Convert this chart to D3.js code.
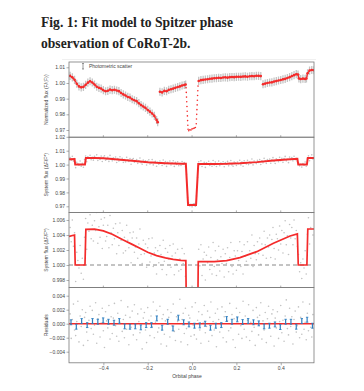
<!DOCTYPE html>
<html lang="en">
<head>
<meta charset="UTF-8">
<title>Fit model to Spitzer phase observation of CoRoT-2b</title>
<script src="https://d3js.org/d3.v7.min.js"></script>
<style>
  body { margin: 0; background: #fff; }
  svg { display: block; font-family: Arial, "Liberation Sans", sans-serif; }
  .title { font-family: "Liberation Serif", serif; font-weight: bold; font-size: 13.6px; fill: #222; }
  .axis text { font-size: 5px; fill: #444; }
  .axis path { display: none; }
  .axis line { stroke: #777; stroke-width: 0.6; }
  .ylabel { font-size: 5px; fill: #444; }
</style>
</head>
<body>
<svg width="364" height="391"></svg>
<script>
// orbital phase axis
const phaseTicks = [-0.4, -0.2, 0.0, 0.2, 0.4];

// y tick labels per panel
const rawTicks = [0.97, 0.98, 0.99, 1.00, 1.01];
const sysTicks = [0.97, 0.98, 0.99, 1.00, 1.01, 1.02];
const zoomTicks = [0.998, 1.000, 1.002, 1.004, 1.006];
const resTicks = [-0.004, -0.002, 0.000, 0.002, 0.004];

// panel 1: binned raw photometry (flux - 1, in ppt)
const rawPhase = [
  -0.55, -0.54, -0.53, -0.52, -0.51, -0.50, -0.49, -0.48, -0.47, -0.46,
  -0.45, -0.44, -0.43, -0.42, -0.41, -0.40, -0.39, -0.38, -0.37, -0.36,
  -0.35, -0.34, -0.33, -0.32, -0.31, -0.30, -0.29, -0.28, -0.27, -0.26,
  -0.25, -0.24, -0.23, -0.22, -0.21, -0.20, -0.19, -0.18, -0.17, -0.16, -0.155,
  -0.145, -0.135, -0.125, -0.115, -0.105, -0.095, -0.085, -0.075, -0.065, -0.055, -0.045, -0.035, -0.029,
  0.03, 0.04, 0.05, 0.06, 0.07, 0.08, 0.09, 0.10, 0.11, 0.12,
  0.13, 0.14, 0.15, 0.16, 0.17, 0.18, 0.19, 0.20, 0.21, 0.22,
  0.23, 0.24, 0.25, 0.26, 0.27, 0.28, 0.29, 0.30, 0.31,
  0.32, 0.33, 0.34, 0.35, 0.36, 0.37, 0.38, 0.39, 0.40, 0.41,
  0.42, 0.43, 0.44, 0.45, 0.46, 0.47, 0.478, 0.482, 0.49, 0.50,
  0.51, 0.516, 0.521, 0.53, 0.54, 0.55
];
const rawFlux = [
  4.5, 3.6, 2.0, -0.5, -2.2, -2.8, -2.5, -1.2, 0.2, 1.1,
  0.3, -1.0, -2.4, -3.1, -3.6, -4.6, -5.3, -5.0, -4.2, -4.6,
  -4.3, -4.8, -5.2, -6.4, -7.3, -8.0, -8.9, -9.3, -10.4, -11.0,
  -11.6, -12.9, -14.1, -15.0, -15.9, -17.2, -18.3, -19.5, -21.0, -23.6, -25.0,
  -5.6, -6.0, -5.0, -5.3, -4.4, -4.0, -3.6, -3.1, -2.6, -2.2, -1.6, -1.3, -1.0,
  1.3, 1.8, 2.0, 2.2, 2.4, 2.7, 2.8, 3.0, 3.1, 3.3,
  3.2, 3.5, 3.6, 3.4, 3.7, 3.8, 3.7, 3.9, 4.0, 3.9,
  4.1, 4.2, 4.0, 4.3, 4.4, 4.3, 4.6, 4.5, 4.4,
  -0.8, -0.4, 0.0, 0.3, 0.4, 0.9, 1.2, 1.6, 1.9, 2.3,
  2.6, 3.2, 3.7, 4.4, 5.0, 5.6, 5.4, 2.9, 2.5, 2.8,
  2.6, 2.9, 6.2, 7.9, 8.3, 8.1
];
// phases where a new observing segment starts in panel 1
const rawBreaks = [-0.145, 0.03, 0.32];
// panel 1: points through the transit (drawn as a dotted drop)
const transitPhase = [
  -0.027, -0.026, -0.025, -0.024, -0.023, -0.022, -0.021, -0.020, -0.019, -0.018,
  -0.015, -0.010, -0.005, 0.000, 0.005, 0.010, 0.015,
  0.019, 0.020, 0.021, 0.022, 0.023, 0.024, 0.025, 0.026, 0.027
];
const transitFlux = [
  -3, -6, -9, -12, -15, -18, -21, -24, -27, -29.5,
  -30.5, -29.8, -30.0, -29.3, -29.0, -28.8, -28.4,
  -26, -23, -20, -17, -14, -11, -8, -5, -2
];

// fitted system model (flux - 1, in ppt)
const modelPhase = [
  -0.555, -0.530, -0.527, -0.483, -0.479, -0.44, -0.40, -0.36, -0.31, -0.27,
  -0.235, -0.20, -0.16, -0.12, -0.085, -0.05, -0.028, -0.018, 0.018, 0.028,
  0.10, 0.156, 0.216, 0.292, 0.367, 0.442, 0.475, 0.479, 0.518, 0.522, 0.555
];
const modelFlux = [
  3.8, 4.0, 0.0, 0.0, 4.75, 4.78, 4.55, 4.1, 3.33, 2.75,
  2.22, 1.7, 1.25, 0.95, 0.76, 0.63, 0.58, -29.0, -29.0, 0.44,
  0.46, 0.58, 0.98, 1.78, 2.9, 3.87, 4.15, 0.0, 0.0, 4.8, 4.8
];

// systematics-corrected flux, one point every 0.005 in phase from -0.55 (ppt)
const sysFlux = [
  5.0, 3.1, 6.0, 2.5, 4.3, -2.2, 1.7, 0.6, -0.4, 2.6,
  -1.1, 0.9, -1.9, 3.7, 6.2, 2.1, 5.6, 4.5, 6.7, 3.5,
  5.3, 3.2, 5.9, 4.6, 7.0, 2.9, 5.1, 3.7, 6.1, 2.2,
  5.3, 6.3, 3.2, 3.8, 5.3, 2.3, 6.6, 4.3, 2.7, 4.9,
  3.5, 5.5, 1.5, 4.3, 2.6, 5.6, 3.3, 4.6, 1.6, 3.7,
  1.9, 5.3, 3.3, 2.3, 4.3, 0.3, 3.6, 4.4, 1.7, 2.4,
  3.6, 0.9, 2.8, 4.8, 1.4, 0.2, 3.3, 1.5, 2.8, -0.3,
  2.3, 3.5, 0.4, 1.2, 3.6, -0.2, 1.6, 2.3, -1.2, 1.9,
  0.3, 2.6, 1.4, -0.6, 3.3, 0.5, 2.2, -1.3, 1.7, 0.8,
  2.6, -0.3, 1.2, 2.8, -1.3, 1.6, 0.1, 2.1, -0.8, 0.8,
  -0.6, 2.2, 0.2, 1.5, -1.5, -6.9, -23.7, -27.7, -29.8, -28.5,
  -30.4, -28.4, -28.0, -29.9, -22.6, -9.2, 2.1, -0.1, 2.7, -1.4,
  0.8, 1.7, -2.0, 1.3, 0.3, 2.4, -0.6, 1.0, -1.2, 3.0,
  -0.2, 1.9, -1.4, 0.7, 2.5, -0.8, 1.1, 0.2, 2.1, -1.6,
  1.5, 0.2, 2.3, -0.9, 1.0, 3.0, -0.2, -1.2, 1.9, 1.2,
  -0.7, 1.9, 0.6, 3.1, -0.2, 1.8, -1.2, 2.7, 1.2, 0.5,
  3.1, 0.0, 1.9, 0.9, 4.0, -0.2, 2.6, 1.5, 0.7, 3.1,
  1.5, 3.6, 0.1, 2.8, 1.3, 4.5, 2.7, 0.9, 3.6, 2.4,
  4.0, 1.0, 3.4, 5.0, 2.2, 0.8, 4.1, 3.5, 2.0, 5.2,
  2.8, 4.6, 1.6, 4.3, 5.9, 2.7, 3.9, 1.4, 5.4, 3.6,
  5.0, 2.7, 6.0, 3.5, 4.6, 2.5, 1.4, -0.9, 0.3, -1.8,
  0.8, -0.4, 1.9, -1.2, 4.1, 6.3, 2.8, 5.0, 7.0, 4.0
];
// residuals at the same phases (ppt)
const residuals = [
  1.4, -2.1, 0.6, 2.8, -0.9, -1.7, 0.3, 3.2, -2.6, 1.1,
  -0.4, 2.0, -3.1, 0.9, 1.6, -1.2, -2.4, 0.5, 2.5, -0.7,
  1.9, -1.5, -0.2, 3.0, -2.8, 0.7, 1.3, -1.9, 0.1, 2.2,
  -1.0, -3.4, 1.7, 0.4, -0.6, 2.6, -2.2, 1.0, -1.4, 0.8,
  2.9, -0.3, -1.8, 1.5, -2.5, 0.2, 3.3, -1.1, 0.6, -2.0,
  1.2, -0.8, 2.4, -3.0, 0.9, -0.5, 1.8, -1.6, 2.7, -0.2,
  -2.3, 1.4, 0.3, -1.3, 2.1, -3.6, 0.8, 1.6, -0.9, -2.7,
  2.3, 0.5, -1.7, 1.1, -0.4, 3.1, -2.0, 0.2, 1.9, -1.2,
  -0.6, 2.5, -2.9, 0.7, 1.3, -1.5, 0.4, -3.2, 2.0, 0.9,
  -1.9, 1.6, -0.3, 2.8, -1.1, -2.4, 1.0, 0.3, -0.8, 3.5,
  -2.6, 0.6, 1.5, -1.4, 2.2, -0.7, -3.0, 1.2, 0.8, -1.8,
  2.4, -0.2, -1.6, 3.0, -2.2, 0.5, 1.7, -0.9, -2.8, 1.3,
  0.1, 2.6, -1.3, -0.4, 1.8, -2.5, 0.9, 3.1, -1.7, 0.3,
  -0.9, 1.5, -3.3, 2.1, 0.6, -1.2, -0.1, 2.4, -2.0, 1.0,
  1.7, -2.6, 0.4, -1.0, 2.9, -0.6, 1.3, -2.3, 0.7, -3.4,
  2.2, 0.8, -1.5, 1.6, -0.3, -2.1, 3.2, -0.8, 1.1, -1.9,
  0.5, 2.7, -2.4, 0.2, -1.1, 1.9, -0.5, -3.1, 2.3, 0.9,
  -1.6, 1.2, 3.0, -2.2, 0.4, -0.9, 1.6, -2.7, 0.7, 2.5,
  -0.2, -1.8, 1.4, 2.0, -3.2, 0.8, -0.6, 1.7, -2.1, 0.3,
  2.6, -1.3, 0.5, -2.5, 1.1, 3.4, -0.7, -1.6, 2.2, -0.4,
  1.0, -2.9, 0.6, 1.8, -1.2, -0.3, 2.4, -2.0, 0.9, -1.5,
  3.1, -0.8, 0.2, -2.3, 1.5, -1.0, 2.8, -0.5, -1.9, 1.3
];

// binned residuals (ppt)
const binPhase = [
  -0.546, -0.522, -0.498, -0.473, -0.449, -0.425, -0.401, -0.377, -0.352, -0.328,
  -0.304, -0.280, -0.256, -0.231, -0.207, -0.183, -0.159, -0.135, -0.110, -0.086,
  -0.062, -0.038, -0.014, 0.011, 0.035, 0.059, 0.083, 0.107, 0.132, 0.156,
  0.180, 0.204, 0.228, 0.253, 0.277, 0.301, 0.325, 0.349, 0.374, 0.398,
  0.422, 0.446, 0.470, 0.495, 0.519, 0.543
];
const binResid = [
  0.2, -0.43, 0.38, -0.2, 0.38, 0.28, 0.48, 0.28, 0.14, 0.38,
  -0.38, -0.43, -0.38, -0.52, -0.2, -0.2, 0.76, -0.57, 0.28, -0.67,
  0.86, 0.2, -0.1, -0.29, -0.24, 0.0, -0.57, -0.29, -0.2, 0.67,
  0.28, 0.62, 0.24, 0.38, 0.2, 0.05, -0.38, -0.29, -0.1, -0.48,
  0.28, 0.28, -0.43, 0.38, 0.57, -0.29
];
const binErr = 0.35;
const photScatter = 2.6; // ppt, grey bars in panel 1

const svg = d3.select("svg");
const left = 69, right = 314;
const panelH = 75.2;

const x = d3.scaleLinear().domain([-0.555, 0.55]).range([left, right]);
const sysPhase = sysFlux.map((d, i) => -0.55 + i * 0.005);
const ppt = v => 1 + v / 1000;

const red = "#f42b2b";
const grey = "#9a9a9a";

// title
svg.append("text").attr("class", "title").attr("x", 41).attr("y", 26.5)
  .text("Fig. 1: Fit model to Spitzer phase");
svg.append("text").attr("class", "title").attr("x", 41).attr("y", 48)
  .text("observation of CoRoT-2b.");
svg.append("line").attr("x1", 62).attr("x2", 316).attr("y1", 59.5).attr("y2", 59.5)
  .attr("stroke", "#f0f0f0");

const panels = [
  { top: 62.0, domain: [0.96541, 1.01338], ticks: rawTicks, fmt: ".2f", label: "Normalized flux (F/\u27e8F\u27e9)" },
  { top: 137.2, domain: [0.96561, 1.01971], ticks: sysTicks, fmt: ".2f", label: "System flux (\u0394F/F*)" },
  { top: 212.4, domain: [0.99699, 1.00701], ticks: zoomTicks, fmt: ".3f", label: "System flux (\u0394F/F*)" },
  { top: 287.6, domain: [-0.005586, 0.005157], ticks: resTicks, fmt: ".3f", label: "Residuals" }
];

panels.forEach((p, i) => {
  p.y = d3.scaleLinear().domain(p.domain).range([p.top + panelH, p.top]);
  const g = svg.append("g");
  p.g = g;
  svg.append("clipPath").attr("id", "clip" + i)
    .append("rect").attr("x", left).attr("y", p.top).attr("width", right - left).attr("height", panelH);
  p.plot = g.append("g").attr("clip-path", `url(#clip${i})`);

  // y axis
  g.append("g").attr("class", "axis").attr("transform", `translate(${left},0)`)
    .call(d3.axisLeft(p.y).tickValues(p.ticks).tickFormat(d3.format(p.fmt)).tickSize(2.5).tickPadding(1.5));

  g.append("text").attr("class", "ylabel")
    .attr("transform", `translate(47.7,${p.top + panelH / 2}) rotate(-90)`)
    .attr("text-anchor", "middle").text(p.label);

  // small inward phase ticks on the bottom edge
  if (i < 3) {
    g.selectAll(".itick").data(phaseTicks).enter().append("line")
      .attr("x1", d => x(d)).attr("x2", d => x(d))
      .attr("y1", p.top + panelH).attr("y2", p.top + panelH - 2)
      .attr("stroke", "#777").attr("stroke-width", 0.6);
  }
});

// panel 1: raw photometry
const p1 = panels[0];
p1.plot.selectAll(".sc").data(rawPhase).enter().append("line")
  .attr("x1", d => x(d)).attr("x2", d => x(d))
  .attr("y1", (d, i) => p1.y(ppt(rawFlux[i] - photScatter)))
  .attr("y2", (d, i) => p1.y(ppt(rawFlux[i] + photScatter)))
  .attr("stroke", "#c4c4c4").attr("stroke-width", 1.3);

// split the binned points into observing segments
const rawSegs = [];
rawPhase.forEach((ph, i) => {
  if (i === 0 || rawBreaks.includes(ph)) rawSegs.push([]);
  rawSegs[rawSegs.length - 1].push([ph, rawFlux[i]]);
});
const rawLine = d3.line().x(d => x(d[0])).y(d => p1.y(ppt(d[1])));
p1.plot.selectAll(".rseg").data(rawSegs).enter().append("path")
  .attr("d", rawLine).attr("fill", "none").attr("stroke", red).attr("stroke-width", 1.2);
p1.plot.selectAll(".rp").data(rawPhase).enter().append("circle")
  .attr("cx", d => x(d)).attr("cy", (d, i) => p1.y(ppt(rawFlux[i])))
  .attr("r", 1.3).attr("fill", red);
p1.plot.selectAll(".tp").data(transitPhase).enter().append("circle")
  .attr("cx", d => x(d)).attr("cy", (d, i) => p1.y(ppt(transitFlux[i])))
  .attr("r", 0.8).attr("fill", red);

// legend
const lg = p1.g.append("g");
lg.append("line").attr("x1", 83).attr("x2", 83).attr("y1", 63.5).attr("y2", 69).attr("stroke", "#555").attr("stroke-width", 0.6);
lg.append("line").attr("x1", 82).attr("x2", 84).attr("y1", 63.5).attr("y2", 63.5).attr("stroke", "#555").attr("stroke-width", 0.6);
lg.append("line").attr("x1", 82).attr("x2", 84).attr("y1", 69).attr("y2", 69).attr("stroke", "#555").attr("stroke-width", 0.6);
lg.append("text").attr("x", 89).attr("y", 67.8).attr("font-size", 5).attr("fill", "#444").text("Photometric scatter");

// panels 2 and 3: system flux with model
const modelLine = y => d3.line().x(d => x(d[0])).y(d => y(ppt(d[1])));
const modelPts = modelPhase.map((d, i) => [d, modelFlux[i]]);

[panels[1], panels[2]].forEach((p, j) => {
  p.plot.selectAll(".gp").data(sysPhase).enter().append("circle")
    .attr("cx", d => x(d)).attr("cy", (d, i) => p.y(ppt(sysFlux[i])))
    .attr("r", 0.8).attr("fill", grey).attr("fill-opacity", 0.6);
  if (j === 1) {
    p.plot.append("line").attr("x1", left).attr("x2", right)
      .attr("y1", p.y(1)).attr("y2", p.y(1))
      .attr("stroke", "#888").attr("stroke-width", 1).attr("stroke-dasharray", "4,3");
  }
  p.plot.append("path").datum(modelPts).attr("d", modelLine(p.y))
    .attr("fill", "none").attr("stroke", red).attr("stroke-width", j === 0 ? 2 : 1.7);
});

// panel 4: residuals
const p4 = panels[3];
const r = v => p4.y(v / 1000);
p4.plot.selectAll(".rs").data(sysPhase).enter().append("circle")
  .attr("cx", d => x(d)).attr("cy", (d, i) => r(residuals[i]))
  .attr("r", 0.8).attr("fill", grey).attr("fill-opacity", 0.6);
p4.plot.append("line").attr("x1", left).attr("x2", right).attr("y1", r(0)).attr("y2", r(0))
  .attr("stroke", red).attr("stroke-width", 1.5);
const bins = p4.plot.selectAll(".bin").data(binPhase).enter().append("g");
bins.append("line").attr("x1", d => x(d)).attr("x2", d => x(d))
  .attr("y1", (d, i) => r(binResid[i] - binErr)).attr("y2", (d, i) => r(binResid[i] + binErr))
  .attr("stroke", "#2f7fc1").attr("stroke-width", 1.2);
[-1, 1].forEach(s => {
  bins.append("line").attr("x1", d => x(d) - 1.2).attr("x2", d => x(d) + 1.2)
    .attr("y1", (d, i) => r(binResid[i] + s * binErr)).attr("y2", (d, i) => r(binResid[i] + s * binErr))
    .attr("stroke", "#2f7fc1").attr("stroke-width", 0.9);
});

// x axis
svg.append("g").attr("class", "axis").attr("transform", `translate(0,${p4.top + panelH})`)
  .call(d3.axisBottom(x).tickValues(phaseTicks).tickFormat(d3.format(".1f")).tickSize(2.5).tickPadding(1.5));
svg.append("text").attr("x", 187).attr("y", 378).attr("text-anchor", "middle")
  .attr("font-size", 5).attr("fill", "#444").text("Orbital phase");

// panel frames
panels.forEach(p => {
  svg.append("rect").attr("x", left).attr("y", p.top).attr("width", right - left).attr("height", panelH)
    .attr("fill", "none").attr("stroke", "#7a7a7a").attr("stroke-width", 0.8);
});
</script>
</body>
</html>
